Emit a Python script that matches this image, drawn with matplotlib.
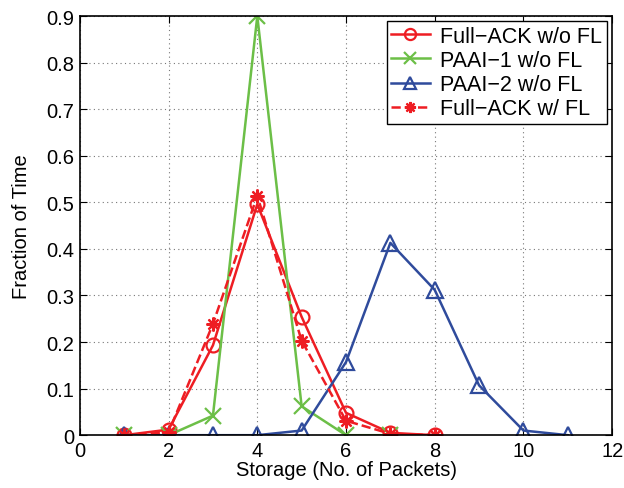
import matplotlib.pyplot as plt
import numpy as np

plt.rcParams['font.family'] = ['Liberation Sans', 'DejaVu Sans']

# storage values (packets)
x_full = [1, 2, 3, 4, 5, 6, 7, 8]
y_full = [0.0, 0.012, 0.193, 0.496, 0.254, 0.048, 0.005, 0.0]

x_paai1 = [1, 2, 3, 4, 5, 6, 7]
y_paai1 = [0.0, 0.0, 0.042, 0.9, 0.062, 0.0, 0.0]

x_paai2 = [1, 2, 3, 4, 5, 6, 7, 8, 9, 10, 11]
y_paai2 = [0.0, 0.0, 0.0, 0.0, 0.01, 0.157, 0.413, 0.312, 0.107, 0.01, 0.0]

x_fullfl = [1, 2, 3, 4, 5, 6, 7, 8]
y_fullfl = [0.0, 0.006, 0.239, 0.514, 0.203, 0.031, 0.003, 0.0]

red = '#ee1d23'
green = '#6cbf47'
blue = '#2f4b9c'

fig = plt.figure(figsize=(6.24, 4.89), dpi=100)
ax = fig.add_axes([0.128, 0.108, 0.853, 0.857])

ax.plot(x_full, y_full, '-o', color=red, lw=1.8, ms=10, mfc='none', mew=1.6,
        label='Full\u2212ACK w/o FL')
ax.plot(x_paai1, y_paai1, '-x', color=green, lw=1.8, ms=11, mew=1.6,
        label='PAAI\u22121 w/o FL')
ax.plot(x_paai2, y_paai2, '-^', color=blue, lw=1.8, ms=11, mfc='none', mew=1.6,
        label='PAAI\u22122 w/o FL')
ax.plot(x_fullfl, y_fullfl, '--', marker=(8, 2, 0), color=red, lw=1.8, ms=10, mew=1.6,
        label='Full\u2212ACK w/ FL')

ax.set_xlim(0, 12)
ax.set_ylim(0, 0.9)
ax.set_xticks(np.arange(0, 13, 2))
ax.set_yticks(np.arange(0, 0.91, 0.1))
ax.set_yticklabels(['0', '0.1', '0.2', '0.3', '0.4', '0.5', '0.6', '0.7', '0.8', '0.9'])
ax.tick_params(direction='in', top=True, right=True, labelsize=14.5, length=5, pad=4)
ax.grid(True, linestyle=(0, (1, 3)), color='#777777', lw=0.8)
for s in ax.spines.values():
    s.set_linewidth(1.2)

ax.set_xlabel('Storage (No. of Packets)', fontsize=14.5, labelpad=0)
ax.set_ylabel('Fraction of Time', fontsize=14.5, labelpad=11)

leg = ax.legend(loc='upper right', fontsize=15.5, fancybox=False, edgecolor='black',
                framealpha=1, borderaxespad=0.25, handlelength=1.8, labelspacing=0.15,
                borderpad=0.2, handletextpad=0.5, markerscale=0.8)
leg.get_frame().set_linewidth(1.0)

fig.savefig('out.png', dpi=100)
